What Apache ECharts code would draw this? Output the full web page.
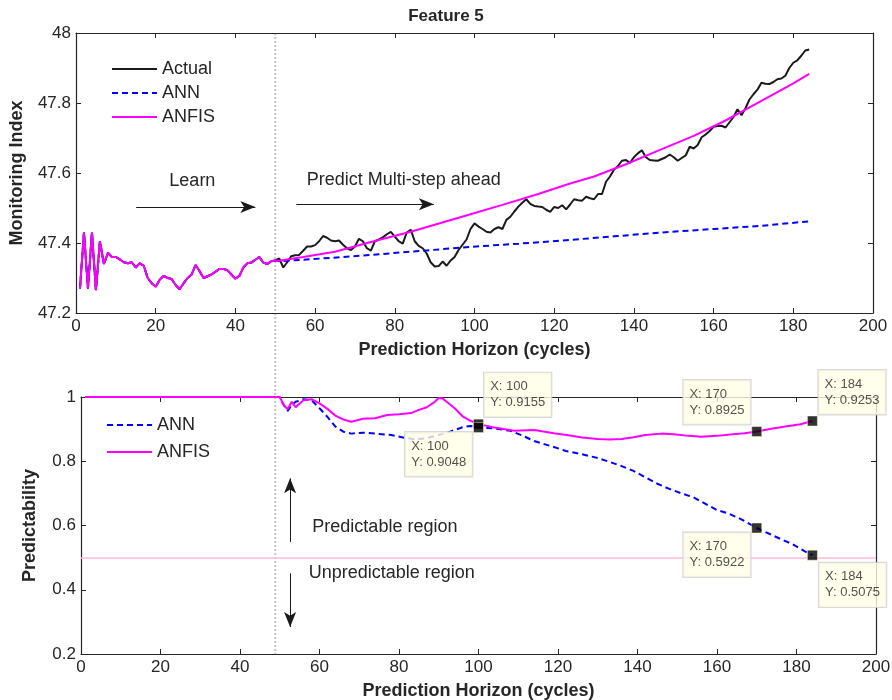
<!DOCTYPE html>
<html><head><meta charset="utf-8">
<script src="https://cdn.jsdelivr.net/npm/echarts@6/dist/echarts.min.js"></script>
<style>html,body{margin:0;padding:0;background:#fff}#c{width:892px;height:700px}</style>
</head><body><div id="c"></div>
<script>
// ---------- DATA ----------
const xTicks = [0, 20, 40, 60, 80, 100, 120, 140, 160, 180, 200];
const topYTicks = [47.2, 47.4, 47.6, 47.8, 48];
const botYTicks = [0.2, 0.4, 0.6, 0.8, 1];

// Actual monitoring index, cycles 1..184
const actualY = [
 47.27,47.43,47.27,47.43,47.265,47.405,47.34,47.372,47.36,47.36,
 47.353,47.345,47.342,47.345,47.33,47.342,47.335,47.30,47.285,47.275,
 47.295,47.306,47.30,47.297,47.28,47.268,47.285,47.30,47.31,47.337,
 47.32,47.30,47.305,47.31,47.318,47.326,47.326,47.322,47.31,47.298,
 47.306,47.33,47.342,47.344,47.352,47.36,47.344,47.34,47.348,47.35,
 47.356,47.33,47.345,47.362,47.365,47.366,47.378,47.39,47.39,47.394,
 47.405,47.42,47.415,47.407,47.405,47.407,47.395,47.385,47.38,47.39,
 47.412,47.405,47.385,47.378,47.405,47.41,47.416,47.425,47.432,47.418,
 47.405,47.398,47.43,47.438,47.405,47.392,47.385,47.37,47.345,47.333,
 47.334,47.347,47.335,47.35,47.36,47.38,47.395,47.41,47.44,47.456,
 47.447,47.44,47.432,47.43,47.44,47.445,47.44,47.466,47.475,47.49,
 47.504,47.515,47.525,47.512,47.506,47.504,47.503,47.495,47.489,47.503,
 47.5,47.508,47.496,47.51,47.525,47.522,47.521,47.532,47.528,47.525,
 47.54,47.54,47.575,47.59,47.609,47.62,47.635,47.637,47.629,47.645,
 47.656,47.665,47.645,47.637,47.636,47.635,47.64,47.645,47.653,47.645,
 47.635,47.643,47.65,47.675,47.67,47.68,47.702,47.71,47.72,47.732,
 47.734,47.735,47.73,47.745,47.76,47.782,47.765,47.785,47.81,47.825,
 47.838,47.858,47.855,47.854,47.86,47.868,47.87,47.878,47.9,47.915,
 47.922,47.935,47.95,47.953
];
const learnEnd = 50; // training cycles (ANN / ANFIS follow actual)

// Multi-step predictions (top plot)
const annPredX = [51, 62, 74, 86, 99, 111, 122, 135, 147, 160, 172, 184];
const annPredY = [47.348, 47.356, 47.366, 47.377, 47.389, 47.398, 47.407, 47.419, 47.43, 47.44, 47.449, 47.462];
const anfisPredX = [51, 57, 65, 74, 84, 90, 99, 107, 116, 124, 130, 138, 147, 155, 163, 172, 180, 184];
const anfisPredY = [47.349, 47.36, 47.375, 47.403, 47.432, 47.452, 47.482, 47.509, 47.54, 47.57, 47.59, 47.625, 47.668, 47.706, 47.75, 47.806, 47.856, 47.883];

// Predictability (bottom plot)
const annPX = [1, 50, 51, 52, 53, 54, 56, 58, 60, 62, 64, 66, 68, 71, 75, 78, 81, 84, 87, 90, 93, 96, 98, 100, 104, 108, 111, 114, 118, 122, 126, 130, 133, 136, 139, 142, 145, 148, 151, 154, 157, 160, 163, 166, 170, 173, 176, 179, 182, 184];
const annPY = [1, 1, 0.975, 0.957, 0.975, 0.985, 0.993, 0.99, 0.965, 0.938, 0.908, 0.892, 0.886, 0.889, 0.885, 0.882, 0.874, 0.868, 0.872, 0.882, 0.893, 0.906, 0.91, 0.9048, 0.902, 0.895, 0.88, 0.863, 0.848, 0.832, 0.822, 0.81, 0.798, 0.785, 0.77, 0.75, 0.73, 0.714, 0.7, 0.688, 0.668, 0.648, 0.637, 0.62, 0.5922, 0.575, 0.558, 0.542, 0.52, 0.5075];
const anfisPX = [1, 50, 51, 52, 53, 54, 55, 56, 58, 60, 62, 64, 66, 68, 71, 74, 77, 80, 83, 85, 87, 89, 90, 91, 92, 94, 96, 98, 100, 104, 109, 114, 119, 123, 126, 130, 133, 136, 139, 142, 146, 149, 153, 156, 160, 164, 167, 170, 174, 178, 181, 184];
const anfisPY = [1, 1, 0.975, 0.962, 0.985, 0.968, 0.98, 0.99, 0.993, 0.98, 0.963, 0.942, 0.93, 0.923, 0.932, 0.934, 0.944, 0.946, 0.95, 0.96, 0.968, 0.985, 0.997, 0.995, 0.985, 0.965, 0.94, 0.926, 0.9155, 0.905, 0.895, 0.897, 0.887, 0.88, 0.874, 0.869, 0.868, 0.869, 0.875, 0.882, 0.886, 0.884, 0.879, 0.876, 0.879, 0.884, 0.887, 0.8925, 0.902, 0.91, 0.915, 0.9253];
const threshold = 0.5;
const splitCycle = 50;

// Data tips
const tipX = [100, 100, 170, 170, 184, 184];
const tipY = [0.9155, 0.9048, 0.8925, 0.5922, 0.9253, 0.5075];
// label placement (style) relative to marker box
const tipPos = [[11, -46], [-68, 10], [-68, -46], [-68, 10], [11.5, -45.5], [12, 13]];

// ---------- CHART ----------
const FONT = '"Liberation Sans", Arial, Helvetica, sans-serif';
const AX = '#262626';
const chart = echarts.init(document.getElementById('c'), null, {renderer: 'canvas'});

const pairs = (xs, ys) => xs.map((x, i) => [x, ys[i]]);
const actualData = actualY.map((v, i) => [i + 1, v]);
const trainData = actualData.slice(0, learnEnd);
const annTop = trainData.concat(pairs(annPredX, annPredY));
const anfisTop = trainData.concat(pairs(anfisPredX, anfisPredY));

function xAx(grid, pos, named) {
  return {
    gridIndex: grid, type: 'value', position: pos,
    min: xTicks[0], max: xTicks[xTicks.length - 1], interval: xTicks[1] - xTicks[0],
    name: named ? 'Prediction Horizon (cycles)' : '', nameLocation: 'middle', nameGap: 28,
    nameTextStyle: {fontFamily: FONT, fontWeight: 'bold', fontSize: 18, color: AX},
    axisLine: {show: true, onZero: false, lineStyle: {color: AX, width: 1.2}},
    axisTick: {show: true, inside: true, length: 5, lineStyle: {color: AX, width: 1}},
    axisLabel: {show: named, fontFamily: FONT, fontSize: 17, color: AX, margin: 5},
    splitLine: {show: false}
  };
}
function yAx(grid, pos, ticks, name, gap) {
  return {
    gridIndex: grid, type: 'value', position: pos,
    min: ticks[0], max: ticks[ticks.length - 1], interval: 0.2,
    name: name || '', nameLocation: 'middle', nameGap: gap || 0,
    nameTextStyle: {fontFamily: FONT, fontWeight: 'bold', fontSize: 18, color: AX},
    axisLine: {show: true, onZero: false, lineStyle: {color: AX, width: 1.2}},
    axisTick: {show: true, inside: true, length: 5, lineStyle: {color: AX, width: 1}},
    axisLabel: {show: !!name, fontFamily: FONT, fontSize: 17, color: AX, margin: 5,
      formatter: v => String(Math.round(v * 10) / 10)},
    splitLine: {show: false}
  };
}

const arrowLine = {color: '#1a1a1a', width: 1, type: 'solid'};
const legendCommon = {orient: 'vertical', padding: 0, itemWidth: 45, itemHeight: 14,
  itemStyle: {opacity: 0, borderWidth: 0},
  textStyle: {fontFamily: FONT, fontSize: 18, color: AX, lineHeight: 18}};

const option = {
  animation: false,
  backgroundColor: '#fff',
  textStyle: {fontFamily: FONT},
  title: {text: 'Feature 5', left: 441, top: 3, textAlign: 'center',
    textStyle: {fontFamily: FONT, fontWeight: 'bold', fontSize: 17, color: AX}},
  grid: [
    {left: 76, right: 19, top: 33, height: 280, outerBoundsMode: 'none'},
    {left: 81, right: 16, top: 397, height: 257, outerBoundsMode: 'none'}
  ],
  xAxis: [xAx(0, 'bottom', true), xAx(0, 'top', false), xAx(1, 'bottom', true), xAx(1, 'top', false)],
  yAxis: [yAx(0, 'left', topYTicks, 'Monitoring Index', 50), yAx(0, 'right', topYTicks),
          yAx(1, 'left', botYTicks, 'Predictability', 42), yAx(1, 'right', botYTicks)],
  legend: [
    Object.assign({data: ['Actual', 'ANN', 'ANFIS'], left: 111, top: 60, itemGap: 6}, legendCommon),
    Object.assign({data: ['ANN', 'ANFIS'], left: 106, top: 416, itemGap: 9}, legendCommon)
  ],
  series: [
    {name: 'Actual', type: 'line', xAxisIndex: 0, yAxisIndex: 0, data: actualData,
     symbol: 'none', z: 2, lineStyle: {color: '#1a1a1a', width: 2}, itemStyle: {color: '#1a1a1a'},
     markLine: {silent: true, symbol: ['none', 'arrow'], symbolSize: [9, 15], label: {show: false},
       lineStyle: arrowLine, emphasis: {disabled: true},
       data: [
         [{coord: [15.1, 47.503]}, {coord: [45, 47.503]}],
         [{coord: [55.3, 47.511]}, {coord: [89.8, 47.511]}]
       ]}},
    {name: 'ANN', type: 'line', xAxisIndex: 0, yAxisIndex: 0, data: annTop,
     symbol: 'none', z: 3, lineStyle: {color: '#0000ff', width: 2, type: [6, 4]}, itemStyle: {color: '#0000ff'}},
    {name: 'ANFIS', type: 'line', xAxisIndex: 0, yAxisIndex: 0, data: anfisTop,
     symbol: 'none', z: 4, lineStyle: {color: '#ff00ff', width: 2}, itemStyle: {color: '#ff00ff'}},

    {name: 'ANN', type: 'line', xAxisIndex: 2, yAxisIndex: 2, data: pairs(annPX, annPY),
     symbol: 'none', z: 3, lineStyle: {color: '#0000ff', width: 2, type: [6, 4]}, itemStyle: {color: '#0000ff'},
     markLine: {silent: true, symbol: 'none', label: {show: false}, emphasis: {disabled: true},
       lineStyle: {color: '#ffb8dc', width: 1.5, type: 'solid'},
       data: [{yAxis: threshold}]}},
    {name: 'ANFIS', type: 'line', xAxisIndex: 2, yAxisIndex: 2, data: pairs(anfisPX, anfisPY),
     symbol: 'none', z: 4, lineStyle: {color: '#ff00ff', width: 2}, itemStyle: {color: '#ff00ff'},
     markLine: {silent: true, symbol: ['none', 'arrow'], symbolSize: [9, 15], label: {show: false},
       lineStyle: arrowLine, emphasis: {disabled: true},
       data: [
         [{coord: [52.6, 0.549]}, {coord: [52.6, 0.747]}],
         [{coord: [52.6, 0.451]}, {coord: [52.6, 0.284]}]
       ]}},
    {name: 'tips', type: 'scatter', xAxisIndex: 2, yAxisIndex: 2, z: 10,
     symbol: 'rect', symbolSize: 10,
     itemStyle: {color: '#000000', borderColor: '#ffffc8', borderWidth: 0.6},
     label: {show: true, fontFamily: FONT, fontSize: 13, color: '#262626', lineHeight: 16,
       backgroundColor: '#ffffe6', borderColor: '#cfcfcf', borderWidth: 1.2, padding: [6, 6, 6, 6],
       formatter: p => 'X: ' + p.value[0] + '\nY: ' + p.value[1]},
     data: tipX.map((x, i) => ({value: [x, tipY[i]], label: {position: tipPos[i]}}))}
  ]
};
chart.setOption(option);

// annotations placed through the library's coordinate conversion
const P = (grid, x, y) => chart.convertToPixel({gridIndex: grid}, [x, y]);
const vx = chart.convertToPixel({xAxisIndex: 0}, splitCycle);
const vTop = chart.convertToPixel({yAxisIndex: 0}, topYTicks[topYTicks.length - 1]);
const vBot = chart.convertToPixel({yAxisIndex: 2}, botYTicks[0]);
const txt = (p, s, align) => ({type: 'text', x: p[0], y: p[1], z: 5,
  style: {text: s, font: '18px ' + FONT, fill: '#262626', textAlign: align || 'left', textVerticalAlign: 'middle'}});
chart.setOption({graphic: [
  {type: 'line', z: 0, shape: {x1: vx, y1: vTop, x2: vx, y2: vBot},
   style: {stroke: '#c4c4c4', lineWidth: 2, lineDash: [2, 2]}},
  txt(P(0, 29.2, 47.577), 'Learn', 'center'),
  txt(P(0, 57.9, 47.58), 'Predict Multi-step ahead'),
  txt(P(1, 58.2, 0.596), 'Predictable region'),
  txt(P(1, 57.3, 0.451), 'Unpredictable region')
]});
</script></body></html>
